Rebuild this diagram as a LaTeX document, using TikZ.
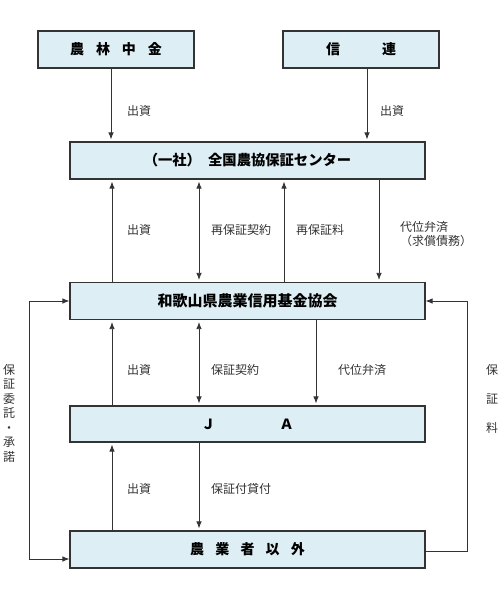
\documentclass[tikz,border=0pt]{standalone}
\usepackage{fontspec}
\setmainfont{Noto Sans CJK JP}
\usepackage{tikz}
\usetikzlibrary{positioning,arrows.meta,calc}
\definecolor{boxblue}{HTML}{DDEEF4}
\definecolor{linegray}{HTML}{333333}
\tikzset{box/.style = {draw=linegray,line width=1.2pt,fill=boxblue,inner sep=0pt,minimum height=37pt,font=\fontsize{14}{16}\selectfont\bfseries},
         arr/.style = {-{Latex[length=7pt,width=5.5pt]},linegray,line width=0.8pt,shorten >=2pt},
         both/.style = {{Latex[length=7pt,width=5.5pt]}-{Latex[length=7pt,width=5.5pt]},linegray,line width=0.8pt,shorten >=2pt,shorten <=2pt},
         lbl/.style = {anchor=west,inner sep=0pt,text=black!80,font=\fontsize{12}{14}\selectfont}}

\begin{document}
\begin{tikzpicture}[x=1pt,y=-1pt]
            \useasboundingbox (0,0) rectangle (500,600);

            \node [box,minimum width=156pt] (nochu)   at (116, 49.5) {農\hspace{0.85em}林\hspace{0.85em}中\hspace{0.85em}金};
            \node [box,minimum width=156pt] (shinren) at (361, 49.5) {信\hspace{3em}連};
            \node [box,minimum width=355pt,font=\fontsize{14.3}{16}\selectfont\bfseries] (zenkoku) at (247.5, 160.5) {（一社）\hspace{0.5em}全国農協保証センター};
            \node [box,minimum width=355pt,font=\fontsize{15}{17}\selectfont\bfseries] (kikin) at (247.5, 301) {和歌山県農業信用基金協会};
            \node [box,minimum width=355pt,minimum height=36pt] (ja) at (247.5, 424) {Ｊ\hspace{4.6em}Ａ};
            \node [box,minimum width=355pt] (other)   at (247.5, 549.5) {農\hspace{0.8em}業\hspace{0.8em}者\hspace{0.8em}以\hspace{0.8em}外};

            \coordinate (c0) at (111, 0);
            \coordinate (c6) at (367, 0);
            \coordinate (c1) at (112, 0);
            \coordinate (c2) at (199, 0);
            \coordinate (c3) at (284, 0);
            \coordinate (c4) at (379, 0);
            \coordinate (c5) at (316, 0);
            \coordinate (lx) at (29, 0);
            \coordinate (rx) at (467, 0);

            \draw [arr] (nochu.south -| c0) -- (zenkoku.north -| c0);
            \draw [arr] (shinren.south -| c6) -- (zenkoku.north -| c6);

            \draw [arr]  (kikin.north -| c1) -- (zenkoku.south -| c1);
            \draw [both] (kikin.north -| c2) -- (zenkoku.south -| c2);
            \draw [arr]  (kikin.north -| c3) -- (zenkoku.south -| c3);
            \draw [arr]  (zenkoku.south -| c4) -- (kikin.north -| c4);

            \draw [arr]  (ja.north -| c1) -- (kikin.south -| c1);
            \draw [both] (ja.north -| c2) -- (kikin.south -| c2);
            \draw [arr]  (kikin.south -| c5) -- (ja.north -| c5);

            \draw [arr]  (other.north -| c1) -- (ja.south -| c1);
            \draw [arr]  (ja.south -| c2) -- (other.north -| c2);

            \coordinate (l1) at ($(other.west)+(0,9.5)$);
            \coordinate (r1) at ($(other.east)+(0,1.5)$);
            \draw [arr,shorten >=0pt] (l1 -| lx) -- (kikin.west -| lx) -- (kikin.west);
            \draw [arr,shorten >=0pt] (l1 -| lx) -- (l1);
            \draw [arr,shorten >=0pt] (r1) -- (r1 -| rx) -- (kikin.east -| rx) -- (kikin.east);

            \node [lbl] (t1) at (380, 111) {出資};
            \node [lbl] (t0) at (127, 111) {出資};
            \node [lbl] at (127, 230) {出資};
            \node [lbl] at (211, 230) {再保証契約};
            \node [lbl] at (296, 230) {再保証料};
            \node [lbl,align=left] at (400, 234) {代位弁済\\（求償債務）};
            \node [lbl] at (127, 370) {出資};
            \node [lbl] at (211, 370) {保証契約};
            \node [lbl] at (338, 370) {代位弁済};
            \node [lbl] at (127, 489) {出資};
            \node [lbl] at (211, 489) {保証付貸付};

            \node [lbl,anchor=center,align=center,font=\fontsize{12}{14.5}\selectfont] at (9, 413) {保\\証\\委\\託\\・\\承\\諾};
            \node [lbl,anchor=center,align=center,font=\fontsize{12}{29}\selectfont] at (492, 399) {保\\証\\料};
\end{tikzpicture}
\end{document}
